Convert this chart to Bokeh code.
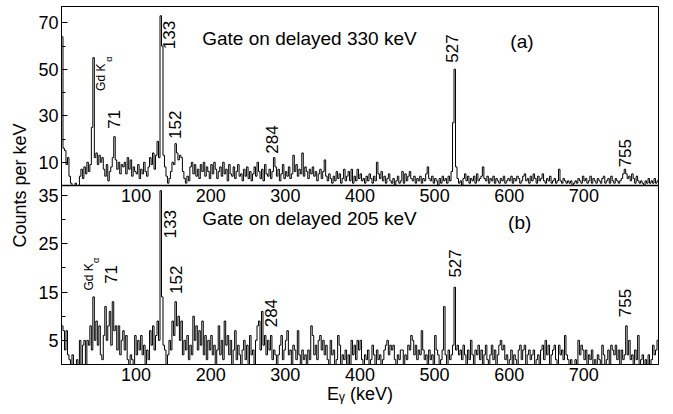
import numpy as np
from bokeh.plotting import figure
from bokeh.models import Range1d, FixedTicker, CustomJSTickFormatter, Span
from bokeh.core.properties import value
from bokeh.embed import file_html
from bokeh.resources import INLINE

# ---------------- data ----------------
BIN_KEV = 2.0          # bin width of the spectra (keV)
E_MAX = 800.0

# (a) Gate on delayed 330 keV  -- counts per keV, 2 keV bins starting at 0 keV
counts_a = [
    64, 16, 15, 9, 12, 4, 1, 0, 0, 1, 0, 0, 4, 7, 3, 8, 5, 10, 6, 9,
    25, 55, 12, 14, 9, 13, 10, 12, 7, 4, 9, 2, 6, 8, 12, 21, 11, 7, 10, 5,
    9, 8, 10, 5, 12, 7, 11, 4, 8, 6, 5, 9, 3, 7, 5, 10, 6, 4, 8, 12,
    9, 14, 7, 13, 19, 12, 73, 60, 13, 8, 4, 1, 3, 6, 10, 9, 18, 14, 11, 13,
    12, 6, 3, 1, 4, 2, 8, 10, 5, 9, 4, 7, 3, 9, 6, 10, 4, 8, 6, 3,
    9, 5, 10, 7, 3, 6, 8, 4, 10, 5, 7, 2, 9, 5, 4, 8, 3, 6, 9, 4,
    5, 2, 7, 4, 8, 3, 6, 2, 5, 8, 4, 10, 6, 3, 7, 2, 9, 5, 4, 7,
    3, 6, 12, 8, 4, 7, 2, 5, 9, 3, 6, 4, 8, 3, 5, 13, 6, 9, 4, 7,
    5, 14, 4, 8, 6, 3, 7, 5, 8, 4, 6, 2, 5, 7, 3, 6, 11, 4, 2, 5,
    3, 1, 4, 2, 6, 3, 5, 1, 3, 7, 2, 4, 6, 2, 7, 1, 4, 2, 7, 3,
    5, 2, 3, 1, 4, 2, 5, 3, 1, 4, 2, 10, 5, 3, 6, 2, 4, 1, 3, 5,
    2, 1, 3, 0, 2, 4, 1, 2, 6, 1, 5, 2, 4, 6, 3, 2, 4, 1, 3, 2,
    4, 1, 3, 2, 5, 8, 3, 2, 4, 1, 3, 2, 0, 3, 1, 4, 2, 3, 1, 4,
    2, 6, 27, 50, 8, 3, 1, 2, 0, 3, 5, 2, 4, 1, 3, 2, 4, 1, 5, 2,
    3, 4, 8, 3, 2, 4, 1, 3, 2, 4, 1, 3, 2, 1, 3, 2, 4, 1, 2, 3,
    2, 4, 1, 3, 2, 4, 3, 1, 2, 4, 5, 2, 3, 1, 4, 2, 5, 3, 1, 4,
    2, 3, 5, 2, 1, 3, 2, 4, 1, 2, 3, 1, 2, 7, 2, 1, 3, 2, 1, 2,
    1, 2, 0, 1, 2, 1, 3, 2, 1, 4, 2, 3, 1, 2, 4, 1, 3, 2, 1, 3,
    2, 1, 3, 4, 1, 2, 3, 1, 4, 2, 1, 3, 2, 1, 2, 3, 5, 7, 5, 3,
    4, 2, 5, 3, 1, 4, 2, 1, 2, 1, 0, 2, 1, 3, 1, 2, 1, 3, 1, 2,
]

# (b) Gate on delayed 205 keV
counts_b = [
    8, 7, 3, 7, 2, 1, 0, 2, 0, 0, 1, 0, 5, 0, 4, 5, 0, 5, 4, 8,
    3, 14, 5, 9, 4, 8, 2, 1, 6, 12, 5, 8, 11, 4, 13, 7, 8, 3, 8, 2,
    5, 7, 3, 6, 1, 0, 2, 1, 0, 6, 2, 5, 3, 6, 2, 4, 0, 3, 1, 7,
    4, 8, 3, 6, 9, 5, 36, 14, 4, 3, 0, 2, 5, 3, 9, 6, 13, 8, 10, 5,
    9, 2, 5, 3, 6, 1, 4, 2, 10, 5, 8, 3, 7, 4, 9, 2, 6, 1, 5, 3,
    6, 2, 4, 0, 3, 8, 2, 5, 1, 9, 4, 6, 2, 5, 0, 3, 7, 1, 4, 2,
    0, 3, 5, 1, 4, 0, 6, 2, 3, 0, 5, 8, 9, 3, 11, 4, 6, 2, 5, 3,
    6, 1, 3, 2, 0, 2, 4, 6, 1, 3, 5, 7, 2, 3, 0, 4, 3, 1, 7, 2,
    0, 3, 1, 2, 0, 3, 1, 8, 6, 2, 4, 1, 5, 6, 3, 5, 2, 4, 1, 0,
    5, 2, 3, 0, 1, 6, 4, 0, 2, 1, 3, 0, 2, 0, 5, 2, 4, 1, 5, 3,
    5, 1, 0, 2, 1, 3, 0, 1, 4, 2, 0, 3, 1, 2, 0, 1, 3, 4, 5, 2,
    4, 3, 4, 1, 0, 2, 1, 3, 3, 0, 2, 1, 4, 3, 6, 5, 2, 4, 1, 3,
    2, 7, 3, 1, 2, 0, 3, 1, 2, 0, 6, 3, 2, 0, 1, 3, 12, 2, 0, 3,
    1, 2, 4, 16, 3, 4, 2, 3, 1, 4, 2, 0, 3, 1, 5, 2, 0, 3, 2, 4,
    1, 3, 0, 2, 4, 1, 0, 2, 4, 1, 3, 0, 2, 4, 5, 3, 4, 1, 2, 0,
    1, 3, 0, 2, 1, 0, 3, 4, 1, 3, 4, 0, 2, 3, 1, 2, 3, 0, 1, 2,
    0, 3, 4, 1, 5, 2, 4, 0, 2, 3, 4, 1, 0, 4, 2, 3, 1, 6, 2, 1,
    0, 1, 0, 0, 1, 0, 5, 2, 4, 3, 1, 3, 0, 2, 1, 3, 0, 1, 0, 2,
    1, 0, 4, 2, 0, 1, 3, 0, 4, 3, 2, 4, 1, 3, 0, 3, 1, 2, 8, 2,
    5, 1, 2, 0, 3, 1, 6, 0, 1, 2, 0, 1, 0, 2, 0, 1, 4, 2, 3, 5,
]

x_ticks = [100, 200, 300, 400, 500, 600, 700]
y_ticks_a = [10, 30, 50, 70]
y_minor_a = [20, 40, 60]
y_ticks_b = [5, 15, 25, 35]
y_minor_b = [10, 20, 30]

peak_labels_a = ["71", "133", "152", "284", "527", "755"]
peak_labels_b = ["71", "133", "152", "284", "527", "755"]

title_a = "Gate on delayed 330 keV"
title_b = "Gate on delayed 205 keV"
x_title = "E\u1d67 (keV)"
y_title = "Counts per keV"

# ---------------- layout constants ----------------
YA = 77.0      # top panel y max
YB = 37.07     # bottom panel y max
FONT = "Liberation Sans"

p = figure(width=673, height=414, x_range=Range1d(0, E_MAX),
           y_range=Range1d(0, 2 * YB), output_backend="svg",
           toolbar_location=None, min_border_left=61, min_border_right=15,
           min_border_top=6, min_border_bottom=50)
p.extra_y_ranges = {"a": Range1d(-YA, YA)}
p.grid.visible = False
p.outline_line_color = "black"
p.outline_line_width = 1
p.background_fill_color = "white"
p.border_fill_color = "white"

# x axis (bottom panel)
xa = p.xaxis[0]
xa.ticker = FixedTicker(ticks=x_ticks, minor_ticks=[])
xa.major_tick_in = 0
xa.major_tick_out = 0
xa.minor_tick_in = 0
xa.minor_tick_out = 0
xa.major_label_standoff = 3
xa.major_label_text_font = FONT
xa.major_label_text_font_size = "18px"
xa.major_label_text_color = "black"
xa.axis_line_color = "black"
xa.axis_label = x_title
xa.axis_label_text_font = FONT
xa.axis_label_text_font_size = "18px"
xa.axis_label_text_font_style = "normal"
xa.axis_label_text_color = "black"
xa.axis_label_standoff = 0

# y axis: both panels share one left axis
pos_a = [YB + v * YB / YA for v in y_ticks_a]
pos_a_minor = [YB + v * YB / YA for v in y_minor_a]
ya = p.yaxis[0]
ya.ticker = FixedTicker(ticks=y_ticks_b + pos_a, minor_ticks=y_minor_b + pos_a_minor)
ya.formatter = CustomJSTickFormatter(args=dict(m=YB, a=YA), code="""
    if (tick > m + 0.01) { return String(Math.round((tick - m) * a / m)); }
    return String(Math.round(tick));
""")
ya.major_tick_in = 6
ya.major_tick_out = 0
ya.minor_tick_in = 4
ya.minor_tick_out = 0
ya.major_tick_line_color = "black"
ya.minor_tick_line_color = "black"
ya.major_label_standoff = 3
ya.major_label_text_font = FONT
ya.major_label_text_font_size = "18px"
ya.major_label_text_color = "black"
ya.axis_line_color = "black"
ya.axis_label = y_title
ya.axis_label_text_font = FONT
ya.axis_label_text_font_size = "18px"
ya.axis_label_text_font_style = "normal"
ya.axis_label_text_color = "black"
ya.axis_label_standoff = 5

# spectra (histogram steps)
edges_a = list(np.arange(len(counts_a)) * BIN_KEV) + [E_MAX]
edges_b = list(np.arange(len(counts_b)) * BIN_KEV) + [E_MAX]
p.step(edges_a, list(counts_a) + [counts_a[-1]], mode="after",
       line_color="black", line_width=1, y_range_name="a")
p.step(edges_b, list(counts_b) + [counts_b[-1]], mode="after",
       line_color="black", line_width=1)

# separator between the panels
p.add_layout(Span(location=YB, dimension="width", line_color="black", line_width=1.5))

# x tick labels of the top panel (drawn just below the separator)
p.text(x=x_ticks, y=[YB] * len(x_ticks), text=[str(t) for t in x_ticks],
       text_align="center", text_baseline="top", y_offset=3,
       text_font=value(FONT), text_font_size="18px", text_color="black")

# panel titles
p.text(x=[188.6], y=[63.4], text=[title_a], text_align="left", text_baseline="middle",
       text_font=value(FONT), text_font_size="19px", text_color="black", y_range_name="a")
p.text(x=[617], y=[62], text=["(a)"], text_align="center", text_baseline="middle",
       text_font=value(FONT), text_font_size="19px", text_color="black", y_range_name="a")
p.text(x=[188.6], y=[30.2], text=[title_b], text_align="left", text_baseline="middle",
       text_font=value(FONT), text_font_size="19px", text_color="black")
p.text(x=[614], y=[29.4], text=["(b)"], text_align="center", text_baseline="middle",
       text_font=value(FONT), text_font_size="19px", text_color="black")

# rotated peak labels
ang = np.pi / 2
lab_x_a = [71, 143.8, 152, 282.4, 523.7, 755.4]
lab_y_a = [24.4, 58.6, 20.0, 13.7, 52.8, 7.8]
p.text(x=lab_x_a, y=lab_y_a, text=peak_labels_a, angle=ang, text_align="left",
       text_baseline="middle", text_font=value(FONT), text_font_size="17px",
       text_color="black", y_range_name="a")
lab_x_b = [67, 145, 152.8, 281, 527, 754.7]
lab_y_b = [16.7, 26.1, 14.6, 7.7, 18.0, 9.8]
p.text(x=lab_x_b, y=lab_y_b, text=peak_labels_b, angle=ang, text_align="left",
       text_baseline="middle", text_font=value(FONT), text_font_size="17px",
       text_color="black")

# Gd K-alpha labels
p.text(x=[53], y=[40.7], text=["Gd K"], angle=ang, text_align="left", text_baseline="middle",
       text_font=value(FONT), text_font_size="12px", text_color="black", y_range_name="a")
p.text(x=[63], y=[53.2], text=["α"], angle=ang, text_align="left", text_baseline="middle",
       text_font=value(FONT), text_font_size="9px", text_color="black", y_range_name="a")
p.text(x=[36.2], y=[15.3], text=["Gd K"], angle=ang, text_align="left", text_baseline="middle",
       text_font=value(FONT), text_font_size="12px", text_color="black")
p.text(x=[46], y=[21.0], text=["α"], angle=ang, text_align="left", text_baseline="middle",
       text_font=value(FONT), text_font_size="9px", text_color="black")

open("out.html", "w").write(file_html(p, INLINE))
